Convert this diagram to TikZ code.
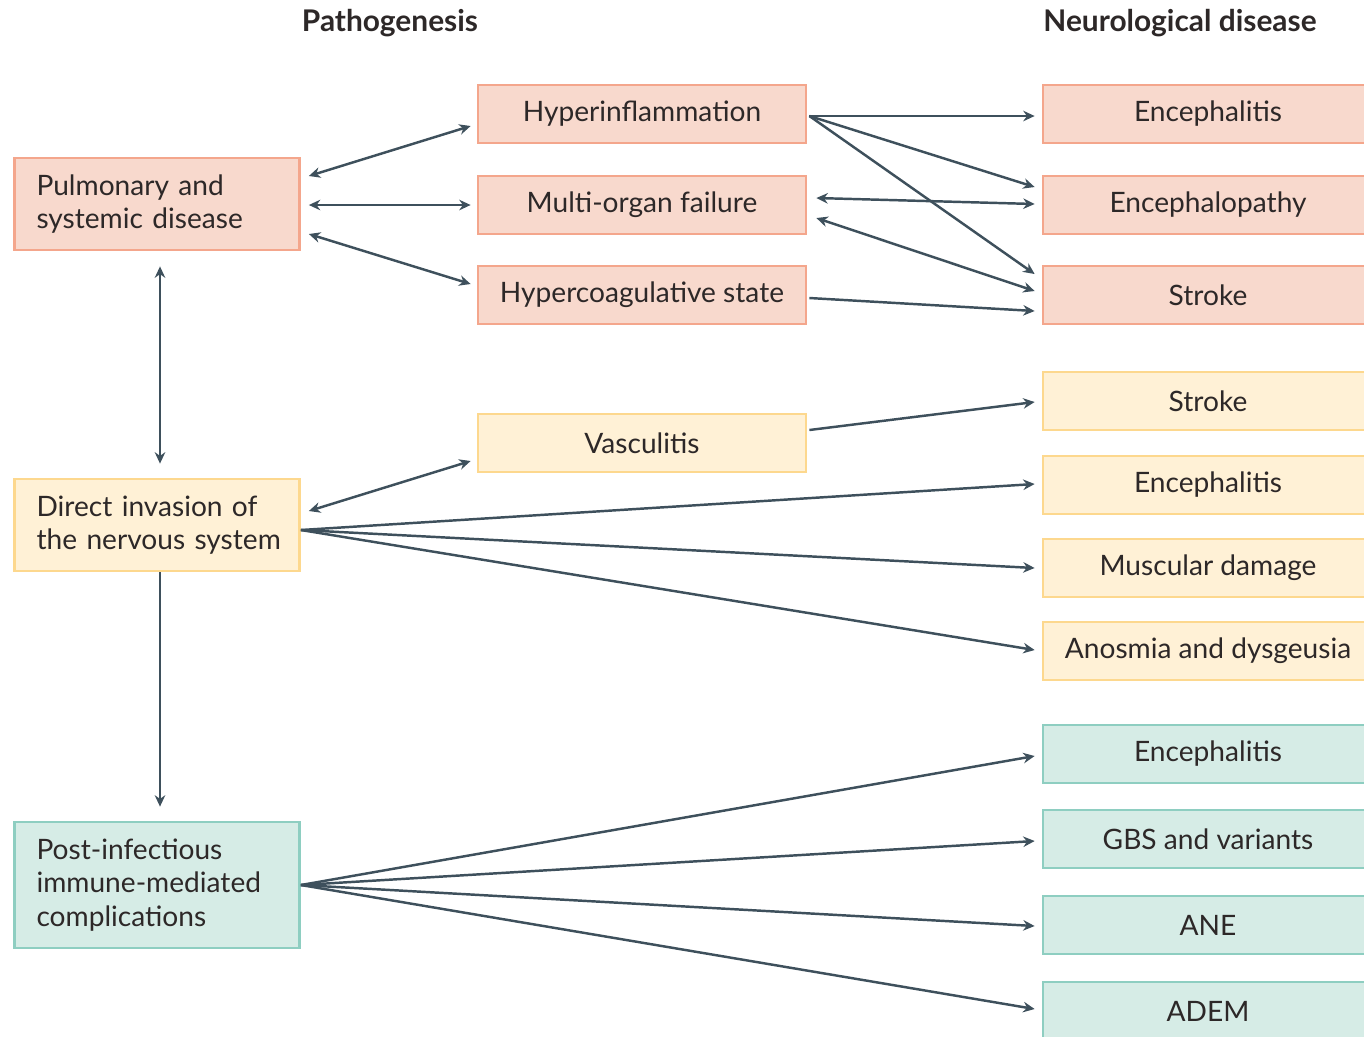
\documentclass[tikz,border=0pt]{standalone}
\usepackage{fontspec}
\setmainfont{Lato}
\usepackage{tikz}
\usetikzlibrary{arrows.meta,calc}
\usepackage{xcolor}
\definecolor{SoftRed}{RGB}{248,217,205}
\definecolor{EdgeRed}{RGB}{244,166,140}
\definecolor{SoftYellow}{RGB}{255,241,214}
\definecolor{EdgeYellow}{RGB}{253,216,142}
\definecolor{SoftTeal}{RGB}{214,236,230}
\definecolor{EdgeTeal}{RGB}{142,206,193}
\definecolor{LinkSlate}{RGB}{62,80,92}
\definecolor{InkGrey}{RGB}{45,40,40}
\tikzset{
  basebox/.style={line width=1.6pt, inner sep=0pt, text=InkGrey,
    font=\fontsize{16}{19}\selectfont},
  causebox/.style={basebox, minimum width=5.7cm, minimum height=1.84cm,
    text width=5.3cm, inner xsep=0.2cm, align=left,
    execute at begin node={\leftskip=0.24cm\hyphenpenalty=10000}},
  mechbox/.style={basebox, minimum width=6.56cm, minimum height=1.16cm,
    align=center},
  diseasebox/.style={basebox, minimum width=6.6cm, minimum height=1.16cm,
    align=center},
  redbox/.style={fill=SoftRed, draw=EdgeRed},
  yellowbox/.style={fill=SoftYellow, draw=EdgeYellow},
  tealbox/.style={fill=SoftTeal, draw=EdgeTeal},
  header/.style={font=\fontsize{17}{20}\selectfont\bfseries, text=InkGrey},
  arrow/.style={-{Stealth[length=6.5pt,width=6pt]}, line width=1.4pt, LinkSlate},
  twoway/.style={arrow, {Stealth[length=6.5pt,width=6pt]}-{Stealth[length=6.5pt,width=6pt]}}
}
\begin{document}
\begin{tikzpicture}[x=0.02cm, y=-0.02cm]
  \useasboundingbox (0,0) rectangle (1364,1036);
  % column headers
  \node[header] (pathhead) at (390,23) {Pathogenesis};
  \node[header] (neurohead) at (1180,23) {Neurological disease};

  % pathogenesis routes
  \node[causebox, redbox] (pulm) at (157,204) {Pulmonary and\\systemic disease};
  \node[causebox, yellowbox] (direct) at (157,525) {Direct invasion of\\the nervous system};
  \node[causebox, tealbox, minimum height=2.52cm] (post) at (157,885) {Post-infectious\\immune-mediated\\complications};

  \node[mechbox, redbox] (hyper) at (642,114) {Hyperinflammation};
  \node[mechbox, redbox] (multi) at (642,205) {Multi-organ failure};
  \node[mechbox, redbox] (coag) at (642,295) {Hypercoagulative state};
  \node[mechbox, yellowbox] (vasc) at (642,443) {Vasculitis};

  % neurological disease
  \node[diseasebox, redbox] (encR) at (1208,114) {Encephalitis};
  \node[diseasebox, redbox] (encphR) at (1208,205) {Encephalopathy};
  \node[diseasebox, redbox] (strokeR) at (1208,295) {Stroke};
  \node[diseasebox, yellowbox] (strokeY) at (1208,401) {Stroke};
  \node[diseasebox, yellowbox] (encY) at (1208,485) {Encephalitis};
  \node[diseasebox, yellowbox] (muscY) at (1208,568) {Muscular damage};
  \node[diseasebox, yellowbox] (anosY) at (1208,651) {Anosmia and dysgeusia};
  \node[diseasebox, tealbox] (encT) at (1208,754) {Encephalitis};
  \node[diseasebox, tealbox] (gbsT) at (1208,839) {GBS and variants};
  \node[diseasebox, tealbox] (aneT) at (1208,925) {ANE};
  \node[diseasebox, tealbox] (ademT) at (1208,1011) {ADEM};

  % links between routes
  \draw[twoway] ($(pulm.east)+(8,-28)$) -- ($(hyper.west)+(-6,12)$);
  \draw[twoway] ($(pulm.east)+(8,1)$) -- ($(multi.west)+(-6,0)$);
  \draw[twoway] ($(pulm.east)+(8,30)$) -- ($(coag.west)+(-6,-11)$);
  \draw[twoway] ($(pulm.south)+(3,15)$) -- ($(direct.north)+(3,-14)$);
  \draw[arrow] ($(direct.south)+(3,0)$) -- ($(post.north)+(3,-14)$);
  \draw[twoway] ($(direct.east)+(8,-14)$) -- ($(vasc.west)+(-6,18)$);

  % links to disease
  \draw[arrow] ($(hyper.east)+(2,2)$) -- ($(encR.west)+(-7,2)$);
  \draw[arrow] ($(hyper.east)+(2,2)$) -- ($(encphR.west)+(-7,-18)$);
  \draw[arrow] ($(hyper.east)+(2,2)$) -- ($(strokeR.west)+(-7,-21)$);
  \draw[twoway] ($(multi.east)+(9,-7)$) -- ($(encphR.west)+(-7,-1)$);
  \draw[twoway] ($(multi.east)+(9,13)$) -- ($(strokeR.west)+(-7,-4)$);
  \draw[arrow] ($(coag.east)+(2,3)$) -- ($(strokeR.west)+(-7,16)$);
  \draw[arrow] ($(vasc.east)+(2,-13)$) -- ($(strokeY.west)+(-7,1)$);
  \draw[arrow] ($(direct.east)+(0,5)$) -- ($(encY.west)+(-7,-1)$);
  \draw[arrow] ($(direct.east)+(0,5)$) -- ($(muscY.west)+(-7,0)$);
  \draw[arrow] ($(direct.east)+(0,5)$) -- ($(anosY.west)+(-7,-1)$);
  \draw[arrow] (post.east) -- ($(encT.west)+(-7,2)$);
  \draw[arrow] (post.east) -- ($(gbsT.west)+(-7,2)$);
  \draw[arrow] (post.east) -- ($(aneT.west)+(-7,1)$);
  \draw[arrow] (post.east) -- ($(ademT.west)+(-7,-2)$);
\end{tikzpicture}
\end{document}
